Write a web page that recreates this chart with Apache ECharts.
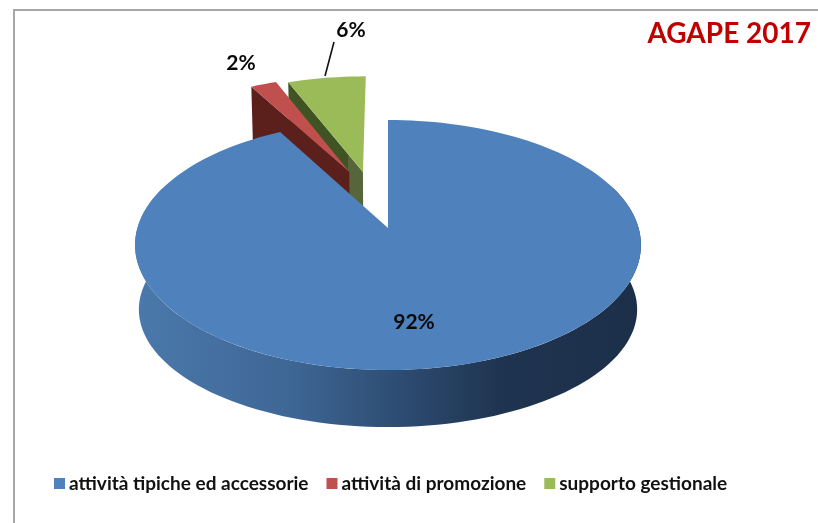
<!DOCTYPE html>
<html><head><meta charset="utf-8">
<style>html,body{margin:0;padding:0;background:#fff}#c{width:818px;height:523px}</style>
<script src="https://cdn.jsdelivr.net/npm/echarts@6/dist/echarts.min.js"></script>
</head><body><div id="c"></div>
<script>
const categories = ['attività tipiche ed accessorie', 'attività di promozione', 'supporto gestionale'];
const values = [92, 2, 6];
const colors = ['#4f81bd', '#c0504d', '#9bbb59'];
const titleText = 'AGAPE 2017';

const FONT = 'Lato, "Open Sans", sans-serif';
const total = values.reduce((a, b) => a + b, 0);
const bounds = [];
values.reduce((acc, v) => { bounds.push([acc, acc + v]); return acc + v; }, 0);

// view of the tilted disc
const CX = 388, CY = 228, SX = 250.6, SY = 122.7, D = 7.35;
const explode = [[0, 0], [-0.165, 0.49], [-0.1066, 0.486]];
function upper(X, Y) {
  const f = D / (D + Y);
  return [CX + X * f * SX, CY - Y * f * SY];
}
function lower(X, Y) {
  const p = upper(X, Y);
  return [CX + (p[0] - CX) * 0.985, CY + (p[1] - CY) * 0.94 + 65.5];
}
function rim(a, e, fn) {
  const r = a * Math.PI / 180;
  return fn(e[0] + Math.sin(r), e[1] + Math.cos(r));
}
function arc(a0, a1, e, fn) {
  const pts = [], n = Math.max(4, Math.ceil((a1 - a0) / 2));
  for (let i = 0; i <= n; i++) pts.push(rim(a0 + (a1 - a0) * i / n, e, fn));
  return pts;
}
const grad = (x, x2, stops) => new echarts.graphic.LinearGradient(x, 0, x2, 0, stops, true);

function renderSlice(i) {
  return function (params, api) {
    const a0 = api.value(0) / total * 360, a1 = api.value(1) / total * 360;
    const e = explode[i];
    const kids = [];
    const poly = (points, fill) => kids.push({ type: 'polygon', shape: { points }, style: { fill } });
    const text = (t, x, y, size) => kids.push({ type: 'text', style: { text: t, x, y, fill: '#0a0a0a', font: 'bold ' + size + 'px ' + FONT, align: 'center', verticalAlign: 'middle' } });
    const label = Math.round(api.value(2) / total * 100) + '%';
    const topArc = arc(a0, a1, e, upper);
    const apex = upper(e[0], e[1]);
    if (i === 0) {
      const band = arc(70, 290, e, upper).concat(arc(70, 290, e, lower).reverse());
      poly(band, grad(135, 641, [
        { offset: 0, color: '#4a79ab' }, { offset: 0.3, color: '#3f6796' },
        { offset: 0.5, color: '#2f4f76' }, { offset: 0.72, color: '#1f3450' }, { offset: 1, color: '#1c2f49' }]));
      poly(topArc.concat([apex]), colors[i]);
      text(label, 414, 322, 21);
    } else {
      const c = rim(a0, e, upper), cb = rim(a0, e, lower), ab = lower(e[0], e[1]);
      const wall = i === 1 ? '#5b1f1c' : grad(c[0], apex[0], [
        { offset: 0, color: '#3f5422' }, { offset: 0.8, color: '#3f5422' },
        { offset: 0.8, color: '#56663a' }, { offset: 1, color: '#56663a' }]);
      poly([c, apex, ab, cb], wall);
      poly(topArc.concat([apex]), colors[i]);
      if (i === 1) text(label, 241, 63, 21);
      if (i === 2) {
        text(label, 351, 30, 21);
        kids.push({ type: 'line', shape: { x1: 334, y1: 42, x2: 325, y2: 76 }, style: { stroke: '#111', lineWidth: 1.6 } });
      }
    }
    return { type: 'group', children: kids };
  };
}

const series = [2, 1, 0].map(i => ({
  type: 'custom',
  name: categories[i],
  coordinateSystem: 'none',
  silent: true,
  animation: false,
  itemStyle: { color: colors[i] },
  data: [[bounds[i][0], bounds[i][1], values[i]]],
  renderItem: renderSlice(i)
}));

const chart = echarts.init(document.getElementById('c'));
chart.setOption({
  animation: false,
  backgroundColor: '#fff',
  title: { text: titleText, right: 2, top: 15, textStyle: { color: '#c00000', fontFamily: FONT, fontWeight: 'bold', fontSize: 28 } },
  legend: {
    data: categories, left: 49, top: 469, icon: 'rect', itemWidth: 11, itemHeight: 11, itemGap: 18,
    selectedMode: false,
    textStyle: { color: '#111', fontFamily: FONT, fontWeight: 'bold', fontSize: 19, padding: [0, 0, 0, -1] }
  },
  graphic: [{ type: 'polyline', silent: true, shape: { points: [[14, 523], [14, 10], [818, 10]] }, style: { stroke: '#a6a6a6', lineWidth: 2, fill: 'none' } }],
  series
});
</script></body></html>
